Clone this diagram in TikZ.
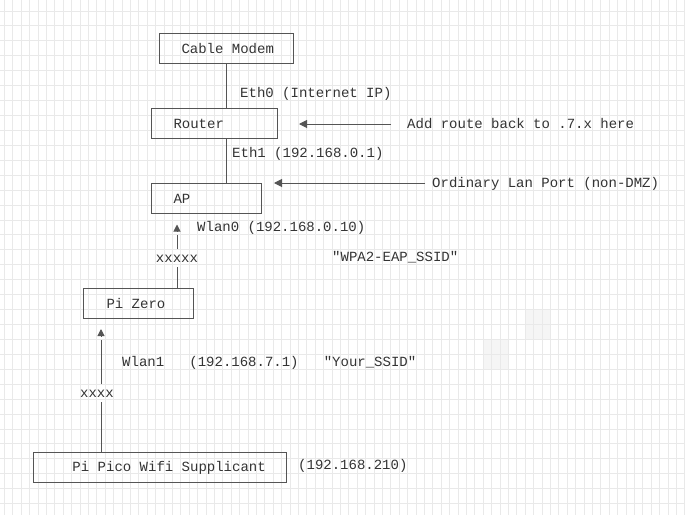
\documentclass[tikz,border=0pt]{standalone}
\usepackage{fontspec}
\setmonofont{Liberation Mono}
\usepackage{xcolor}
\usepackage{tikz}
\usetikzlibrary{arrows.meta,calc}
\definecolor{gridgray}{HTML}{E9E9E9}
\definecolor{cellgray}{HTML}{F5F5F5}
\definecolor{linegray}{HTML}{555555}
\definecolor{textgray}{HTML}{333333}
\newcommand{\boxtxt}[3]{\makebox[#1pt][l]{\hspace*{#2pt}#3}}

\begin{document}
\begin{tikzpicture}[x=1pt,y=-1pt,
    mono/.style={font=\ttfamily\fontsize{14pt}{16pt}\selectfont, text=textgray, text height=9.6pt, text depth=0pt},
    box/.style={mono, draw=linegray, line width=1pt, minimum height=30pt, inner sep=0pt, anchor=north west},
    tag/.style={mono, anchor=west, inner sep=0pt},
    xtag/.style={mono, inner xsep=0pt, inner ysep=4pt},
    wire/.style={draw=linegray, line width=1pt},
    leftarrow/.style={-{Triangle[length=8pt,width=8pt]}},
    uparrow/.style={-{Triangle[length=7pt,width=7pt]}},
    gridline/.style={gridgray, line width=1pt}]
    \useasboundingbox (0,0) rectangle (685,515);
    % Background grid
    \fill[white] (0,0) rectangle (685,515);
    \fill[cellgray] (525,309) rectangle (550,339);
    \fill[cellgray] (483,339) rectangle (508,370);
    \foreach \i in {0,...,81} \draw[gridline] ({4.5+8.4*\i},0) -- ({4.5+8.4*\i},515);
    \foreach \j in {0,...,33} \draw[gridline] (0,{11+14.93*\j}) -- (685,{11+14.93*\j});
    % Boxes
    \node[box] (modem) at (159,33) {\boxtxt{134}{22}{Cable Modem}};
    \node[box] (router) at (151,108) {\boxtxt{126}{22}{Router}};
    \node[box] (ap) at (151,183) {\boxtxt{110}{22}{AP}};
    \node[box] (pizero) at (83,288) {\boxtxt{110}{23}{Pi Zero}};
    \node[box] (pico) at (33,451.5) {\boxtxt{253}{39}{Pi Pico Wifi Supplicant}};
    % Labels
    \node[tag] (eth0) at (240,93) {Eth0 (Internet IP)};
    \node[tag] (addroute) at (407,124) {Add route back to .7.x here};
    \node[tag] (eth1) at (232,153) {Eth1 (192.168.0.1)};
    \node[tag] (lanport) at (432,183) {Ordinary Lan Port (non-DMZ)};
    \node[tag] (wlan0) at (197,227) {Wlan0 (192.168.0.10)};
    \node[tag] (ssida) at (332,257) {"WPA2-EAP\_SSID"};
    \node[tag] (wlan1) at (122,361.5) {Wlan1~~~(192.168.7.1)~~~"Your\_SSID"};
    \node[tag] (picoip) at (298,465) {(192.168.210)};
    \node[xtag] (xa) at (177,258) {xxxxx};
    \node[xtag] (xb) at (97,393) {xxxx};
    \coordinate (tipa) at (177,224.5);
    \coordinate (tipb) at (101,329);
    % Wired links
    \draw[wire] (modem.south) -- (router.north -| modem.south);
    \draw[wire] (router.south -| modem.south) -- (ap.north -| modem.south);
    \draw[wire, leftarrow, shorten <=16pt, shorten >=21pt] (addroute.west) -- (addroute.west -| router.east);
    \draw[wire, leftarrow, shorten <=7pt, shorten >=12pt] (lanport.west) -- (lanport.west -| ap.east);
    % Wireless links (arrow head set off from its line)
    \draw[wire] (pizero.north -| xa) -- (xa.south);
    \draw[wire] (xa.north) -- ($(tipa)+(0,10.5)$);
    \draw[wire, uparrow] ($(tipa)+(0,7)$) -- (tipa);
    \draw[wire] (pico.north -| tipb) -- (xb.south -| tipb);
    \draw[wire] (xb.north -| tipb) -- ($(tipb)+(0,10.5)$);
    \draw[wire, uparrow] ($(tipb)+(0,7)$) -- (tipb);
\end{tikzpicture}
\end{document}
